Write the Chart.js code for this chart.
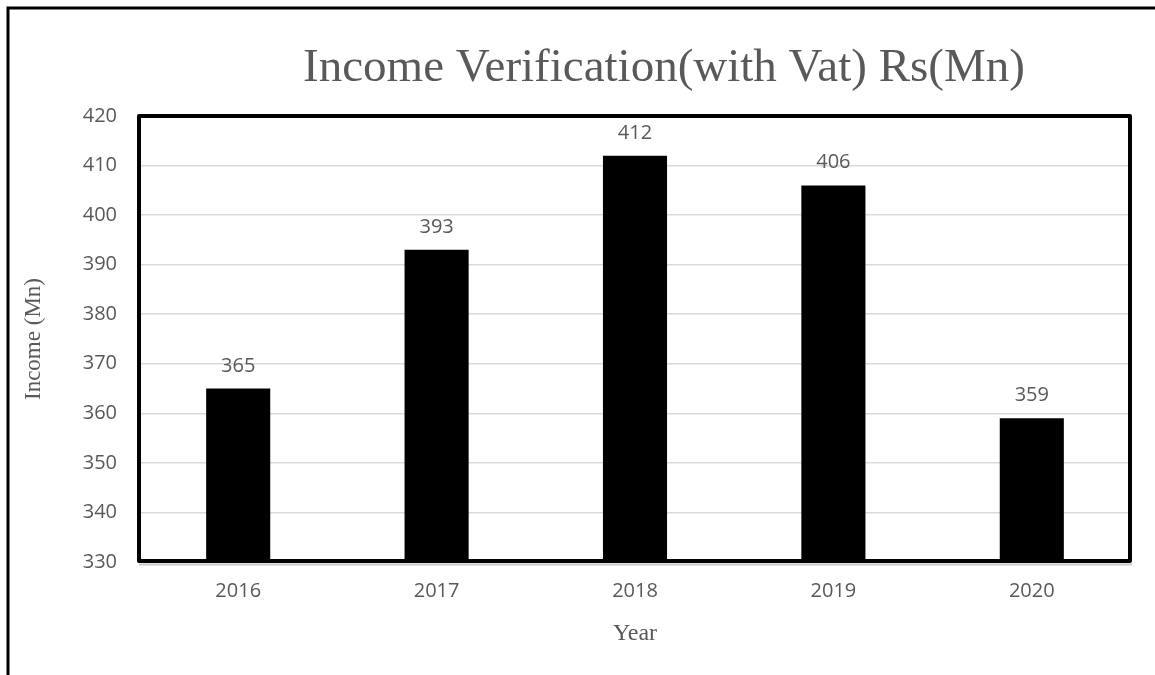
<!DOCTYPE html>
<html>
<head>
<meta charset="utf-8">
<title>Income Verification</title>
<script src="https://cdn.jsdelivr.net/npm/chart.js@4/dist/chart.umd.min.js"></script>
<style>
  html, body { margin:0; padding:0; background:#fff; }
  #wrap { width:1155px; height:675px; }
</style>
</head>
<body>
<div id="wrap"><canvas id="incomeChart" width="1155" height="675"></canvas></div>
<script>
// chart data
const years = ['2016','2017','2018','2019','2020'];
const income = [365, 393, 412, 406, 359];
const yMin = 330, yMax = 420, yStep = 10;
const titleText = 'Income Verification(with Vat) Rs(Mn)';
const grey = '#595959';

(function(){
  // outer frame (only left + top edges visible in the original)
  const frame = {
    id: 'frame',
    beforeDraw(chart){
      const c = chart.ctx;
      c.save();
      c.strokeStyle = '#000';
      c.lineWidth = 3;
      c.beginPath();
      c.moveTo(8, 675); c.lineTo(8, 8); c.lineTo(1155, 8);
      c.stroke();
      c.restore();
    },
    afterDatasetsDraw(chart){
      const c = chart.ctx, a = chart.chartArea;
      c.save();
      // light axis line just under the plot box
      c.strokeStyle = '#c8c8c8';
      c.lineWidth = 2;
      c.beginPath();
      c.moveTo(a.left, a.bottom + 2.5); c.lineTo(a.right + 1, a.bottom + 2.5);
      c.stroke();
      // heavy plot box
      c.strokeStyle = '#000';
      c.lineWidth = 4;
      c.lineJoin = 'round';
      c.strokeRect(a.left, a.top, a.right - a.left - 1, a.bottom - a.top - 1);
      // value labels above bars
      c.fillStyle = grey;
      c.font = '20px "Open Sans"';
      c.textAlign = 'center';
      c.textBaseline = 'alphabetic';
      chart.getDatasetMeta(0).data.forEach((bar, i)=>{
        c.fillText(String(income[i]), bar.x, bar.y - 17);
      });
      // title
      c.font = '47px "Liberation Serif"';
      c.fillText(titleText, 664, 81);
      c.restore();
    }
  };

  new Chart(document.getElementById('incomeChart'), {
    type: 'bar',
    data: {
      labels: years,
      datasets: [{
        label: 'Income',
        data: income,
        backgroundColor: '#000',
        borderWidth: 0,
        barPercentage: 1,
        categoryPercentage: 0.323
      }]
    },
    options: {
      responsive: false,
      animation: false,
      layout: { padding: { left: 0, top: 116, right: 24, bottom: 0 } },
      plugins: { legend: { display: false }, tooltip: { enabled: false }, title: { display: false } },
      scales: {
        x: {
          grid: { display: false, drawTicks: false },
          border: { display: false },
          ticks: { color: grey, font: { family: 'Open Sans', size: 20 }, padding: 17 },
          title: { display: true, text: 'Year', color: grey,
                   font: { family: 'Liberation Serif', size: 24 }, padding: { bottom: 27 } },
          afterFit(scale){ scale.height = 113; }
        },
        y: {
          min: yMin, max: yMax,
          grid: { color: '#d9d9d9', lineWidth: 1.5, drawTicks: false },
          border: { display: false },
          ticks: { stepSize: yStep, color: grey, font: { family: 'Open Sans', size: 20 }, padding: 22 },
          title: { display: true, text: 'Income (Mn)', color: grey,
                   font: { family: 'Liberation Serif', size: 23 }, padding: { top: 20 } },
          afterFit(scale){ scale.width = 139; }
        }
      }
    },
    plugins: [frame]
  });
})();
</script>
</body>
</html>
